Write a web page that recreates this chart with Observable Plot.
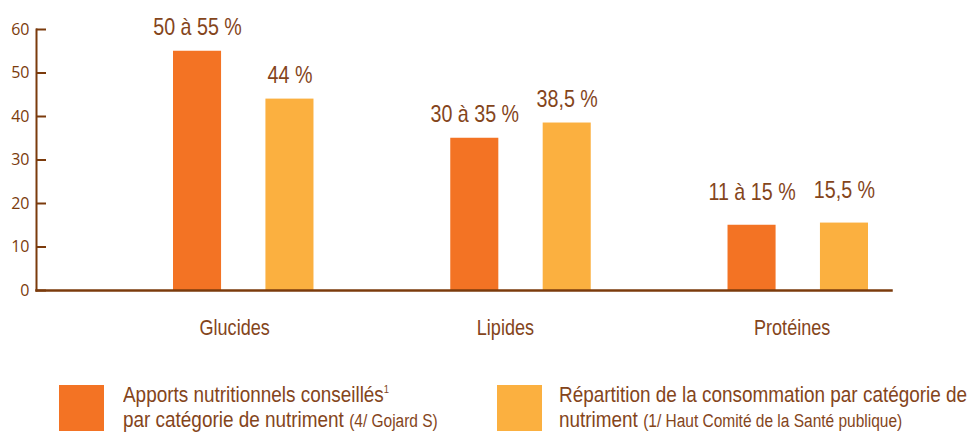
<!DOCTYPE html>
<html>
<head>
<meta charset="utf-8">
<script src="https://cdn.jsdelivr.net/npm/d3@7"></script>
<script src="https://cdn.jsdelivr.net/npm/@observablehq/plot@0.6"></script>
<style>
  html, body { margin: 0; padding: 0; background: #fff; }
  #wrap { position: relative; width: 978px; height: 435px; overflow: hidden; }
  #legend { position: relative; width: 978px; height: 85px; font-family: "Liberation Sans", Arial, sans-serif; color: #84451b; }
  .sw { position: absolute; top: 35px; width: 45px; height: 46px; }
  .lt { position: absolute; top: 32px; font-size: 22px; line-height: 25px; white-space: nowrap; transform: scaleX(0.86); transform-origin: 0 0; }
  .sm { font-size: 18px; }
  sup { font-size: 11px; vertical-align: 9px; line-height: 0; }
</style>
</head>
<body>
<div id="wrap">
  <div id="chart"></div>
  <div id="legend"></div>
</div>
<script>
const categories = ["Glucides", "Lipides", "Protéines"];
const seriesKeys = ["A", "B"];
const conseilles = [55, 35, 15];
const consommation = [44, 38.5, 15.5];
const labelsConseilles = ["50 à 55 %", "30 à 35 %", "11 à 15 %"];
const labelsConsommation = ["44 %", "38,5 %", "15,5 %"];
const yTicks = [0, 10, 20, 30, 40, 50, 60];

const orange = "#f37324";
const yellow = "#fbb040";
const brown = "#7b3b0c";
const textBrown = "#84451b";
const narrow = "'Liberation Sans', Arial, sans-serif";

const data = categories.flatMap((c, i) => [
  {cat: c, s: "A", value: conseilles[i], label: labelsConseilles[i]},
  {cat: c, s: "B", value: consommation[i], label: labelsConsommation[i]}
]);
const key = d => d.cat + "|" + d.s;
const xDomain = categories.flatMap((c, i) =>
  i < categories.length - 1 ? [c + "|A", c + "|B", "gap" + i] : [c + "|A", c + "|B"]);

const chart = Plot.plot({
  width: 978,
  height: 350,
  marginLeft: 36,
  marginRight: 87,
  marginTop: 29,
  marginBottom: 60,
  style: {fontFamily: narrow, background: "#fff"},
  x: {domain: xDomain, range: [173, 868], paddingInner: 0.48, paddingOuter: 0, round: false, axis: null},
  y: {domain: [0, 60], axis: null},
  color: {domain: seriesKeys, range: [orange, yellow]},
  marks: [
    Plot.barY(data, {x: key, y: "value", fill: "s"}),
    Plot.frame({anchor: "left", stroke: brown, strokeWidth: 2}),
    Plot.frame({anchor: "bottom", stroke: brown, strokeWidth: 2.5}),
    Plot.ruleY(yTicks, {stroke: brown, strokeWidth: 2, insetRight: 845}),
    Plot.axisY(yTicks, {label: null, tickSize: 0, tickPadding: 7, fontSize: 16, fontFamily: "'Open Sans', sans-serif", fill: brown, tickFormat: d => String(d)}),
    Plot.text(data.filter(d => d.cat !== "Protéines"), {x: key, y: "value", text: "label", dy: -16, lineAnchor: "bottom", fontSize: 24, fontFamily: narrow, fill: textBrown}),
    Plot.text(data.filter(d => d.cat === "Protéines"), {x: key, y: "value", text: "label", dy: -25, lineAnchor: "bottom", fontSize: 24, fontFamily: narrow, fill: textBrown}),
    Plot.text(categories, {x: d => d + "|A", y: () => 0, text: d => d, textAnchor: "start", dx: 2, dy: 44, lineAnchor: "bottom", fontSize: 22, fontFamily: narrow, fill: textBrown})
  ]
});
document.getElementById("chart").appendChild(chart);

// condense the narrow-font texts horizontally (emulates a condensed face)
chart.querySelectorAll('g[font-family*="Liberation"] text').forEach(t => {
  const len = t.getComputedTextLength();
  if (len > 0) {
    t.setAttribute("textLength", (len * 0.82).toFixed(1));
    t.setAttribute("lengthAdjust", "spacingAndGlyphs");
  }
});

const legend = document.getElementById("legend");
legend.innerHTML = `
  <div class="sw" style="left:59px;background:${orange}"></div>
  <div class="lt" style="left:123px">Apports nutritionnels conseillés<sup>1</sup><br>par catégorie de nutriment <span class="sm">(4/ Gojard S)</span></div>
  <div class="sw" style="left:497px;background:${yellow}"></div>
  <div class="lt" style="left:559px">Répartition de la consommation par catégorie de<br>nutriment <span class="sm">(1/ Haut Comité de la Santé publique)</span></div>
`;
</script>
</body>
</html>
